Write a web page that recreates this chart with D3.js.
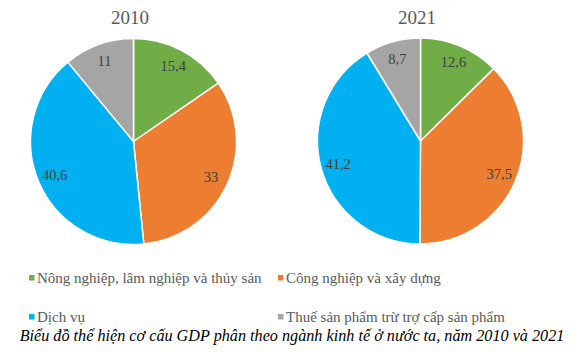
<!DOCTYPE html>
<html><head><meta charset="utf-8">
<script src="https://cdn.jsdelivr.net/npm/d3@7"></script>
<style>html,body{margin:0;padding:0;background:#fff;}svg{display:block;}</style>
</head><body>
<svg id="c" width="582" height="357"></svg>
<script>
const categories = ["Nông nghiệp, lâm nghiệp và thủy sản","Công nghiệp và xây dựng","Dịch vụ","Thuế sản phẩm trừ trợ cấp sản phẩm"];
const years = ["2010","2021"];
const values2010 = [15.4, 33, 40.6, 11];
const values2021 = [12.6, 37.5, 41.2, 8.7];
const labels2010 = ["15,4","33","40,6","11"];
const labels2021 = ["12,6","37,5","41,2","8,7"];
const colors = ["#70AD47","#ED7D31","#00B0F0","#A5A5A5"];
const caption = "Biểu đồ thể hiện cơ cấu GDP phân theo ngành kinh tế ở nước ta, năm 2010 và 2021";

const svg = d3.select("#c");
const serif = "'Liberation Serif','Times New Roman',serif";
const color = d3.scaleOrdinal().domain(categories).range(colors);
const pie = d3.pie().sort(null).value(d => d.v);
const R = 103;
const arc = d3.arc().innerRadius(0).outerRadius(R);
const lab = d3.arc().innerRadius(R*0.83).outerRadius(R*0.83);

const pies = [
  {year: years[0], vals: values2010, labs: labels2010, cx: 133.5, cy: 141.5, tx: 130},
  {year: years[1], vals: values2021, labs: labels2021, cx: 420.5, cy: 141, tx: 417}
];
pies.forEach(p => {
  const data = categories.map((c,i) => ({c, v: p.vals[i], l: p.labs[i]}));
  const g = svg.append("g").attr("transform", `translate(${p.cx},${p.cy})`);
  const arcs = pie(data);
  g.selectAll("path").data(arcs).join("path")
    .attr("d", arc).attr("fill", d => color(d.data.c))
    .attr("stroke", "#fff").attr("stroke-width", 1.5);
  g.selectAll("text.v").data(arcs).join("text").attr("class","v")
    .attr("transform", d => `translate(${lab.centroid(d)})`)
    .attr("text-anchor","middle").attr("dy","0.35em")
    .attr("font-family", serif).attr("font-size", 14.5).attr("fill", "#404040")
    .text(d => d.data.l);
  svg.append("text").attr("x", p.tx).attr("y", 24)
    .attr("text-anchor","middle").attr("font-family", serif).attr("font-size", 19)
    .attr("fill", "#595959").text(p.year);
});

// legend
const legPos = [[29,278],[278,278],[29,317],[278,317]];
categories.forEach((c,i) => {
  const [x,y] = legPos[i];
  svg.append("rect").attr("x", x).attr("y", y-3).attr("width", 5.5).attr("height", 5.5).attr("fill", color(c));
  svg.append("text").attr("x", x+8).attr("y", y).attr("dy","0.35em")
    .attr("font-family", serif).attr("font-size", 15)
    .attr("fill", "#595959").text(c);
});

svg.append("text").attr("x", 292).attr("y", 335).attr("dy","0.35em").attr("text-anchor","middle")
  .attr("font-family", serif).attr("font-size", 16.2).attr("font-style","italic").attr("fill","#000")
  .text(caption);
</script>
</body></html>
